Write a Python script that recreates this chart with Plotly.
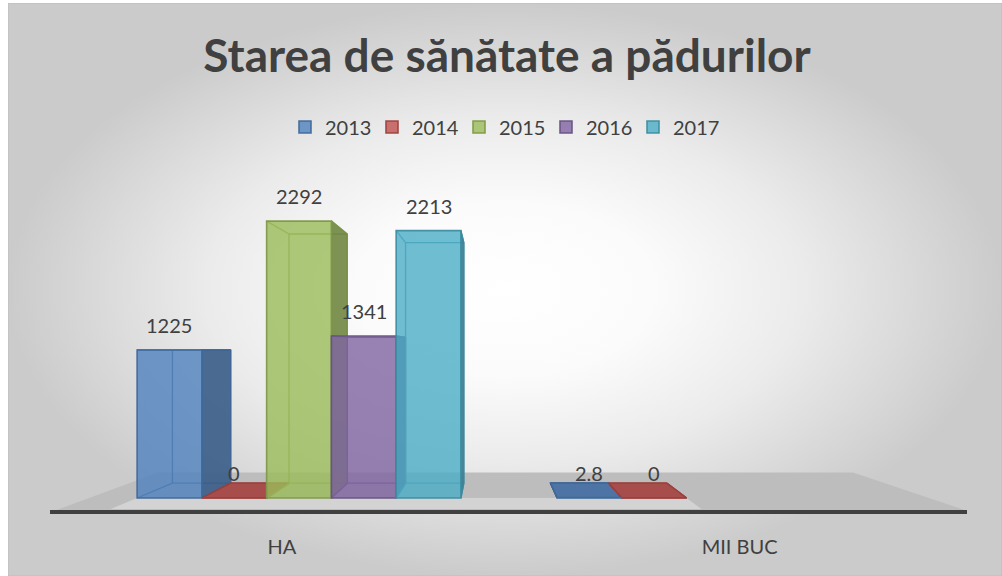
import plotly.graph_objects as go

# ---- data -------------------------------------------------------------
categories = ["HA", "MII BUC"]
years = ["2013", "2014", "2015", "2016", "2017"]
values_2013 = [1225, 2.8]
values_2014 = [0, 0]
values_2015 = [2292, None]
values_2016 = [1341, None]
values_2017 = [2213, None]
series_colors = ["#4F81BD", "#C0504D", "#9BBB59", "#8064A2", "#4BACC6"]

series = [values_2013, values_2014, values_2015, values_2016, values_2017]

# ---- 3-D look: simple one-point perspective ---------------------------
VP_X = 0.455          # vanishing point, category units
VP_V = 1225.0         # vanishing point (eye level), value units
K_BACK = 0.90         # depth scale of the back face of each column
K_FLOOR_BACK = 0.827  # back edge of the floor
K_FLOOR_FRONT = 1.09  # front edge of the floor (axis line)
BARGAP = 0.229

X_RANGE = [-0.5929, 1.5905]
Y_RANGE = [-99.3, 2797.6]

TEXT = "#404040"
FONT = "Lato"


def project(x, v, k):
    return VP_X + k * (x - VP_X), VP_V + k * (v - VP_V)


def hex_rgb(h):
    return tuple(int(h[i:i + 2], 16) for i in (1, 3, 5))


def rgba(rgb, a):
    return f"rgba({rgb[0]},{rgb[1]},{rgb[2]},{a})"


def darker(rgb, f):
    return tuple(int(c * f) for c in rgb)


def polygon(points):
    xs = [p[0] for p in points] + [points[0][0]]
    ys = [p[1] for p in points] + [points[0][1]]
    return xs, ys


fig = go.Figure()

# ---- chart-area background (radial gradient) ---------------------------
fig.add_trace(go.Scatter(
    x=[0, 1, 1, 0, 0], y=[0, 0, 1, 1, 0], xaxis="x", yaxis="y",
    mode="lines", fill="toself", line=dict(color="#bdbdbd", width=1),
    fillgradient=dict(type="radial",
                      colorscale=[[0, "#ffffff"], [0.3, "#fbfbfb"],
                                  [0.6, "#ebebeb"], [1, "#cbcbcb"]]),
    hoverinfo="skip", showlegend=False))

# ---- floor -------------------------------------------------------------
fx, fy = polygon([project(-0.5, 0, K_FLOOR_BACK), project(1.5, 0, K_FLOOR_BACK),
                  project(1.5, 0, K_FLOOR_FRONT), project(-0.5, 0, K_FLOOR_FRONT)])
fig.add_trace(go.Scatter(x=fx, y=fy, xaxis="x2", yaxis="y2", mode="lines",
                         fill="toself", fillcolor="#bdbdbd", line=dict(width=0),
                         hoverinfo="skip", showlegend=False))

n = len(years)
w = (1 - BARGAP) / n


def bar_span(ci, si):
    x0 = ci + (si - n / 2) * w
    return x0, x0 + w


# lighter band along the front of the floor
sx0, _ = bar_span(0, 0)
_, sx1 = bar_span(1, 1)
sx, sy = polygon([project(sx0, 0, 1.0), project(sx1, 0, 1.0),
                  project(sx1, 0, 1.075), project(sx0, 0, 1.075)])
fig.add_trace(go.Scatter(x=sx, y=sy, xaxis="x2", yaxis="y2", mode="lines",
                         fill="toself", fillcolor="#d3d3d3", line=dict(width=0),
                         hoverinfo="skip", showlegend=False))

# ---- hidden faces and side/top faces of every column -------------------
for ci in range(len(categories)):
    for si in range(n):
        v = series[si][ci]
        if v is None:
            continue
        base = hex_rgb(series_colors[si])
        edge = rgba(darker(base, 0.8), 0.9)
        x0, x1 = bar_span(ci, si)
        f = {"bl": (x0, 0), "br": (x1, 0), "tr": (x1, v), "tl": (x0, v)}
        b = {key: project(px, pv, K_BACK) for key, (px, pv) in f.items()}

        # back outline and depth edges, seen through the translucent front
        ex, ey = [], []
        for key_a, key_b in (("bl", "br"), ("br", "tr"), ("tr", "tl"), ("tl", "bl")):
            ex += [b[key_a][0], b[key_b][0], None]
            ey += [b[key_a][1], b[key_b][1], None]
        for key in f:
            ex += [f[key][0], b[key][0], None]
            ey += [f[key][1], b[key][1], None]
        fig.add_trace(go.Scatter(x=ex, y=ey, xaxis="x2", yaxis="y2", mode="lines",
                                 line=dict(color=edge, width=1.3),
                                 hoverinfo="skip", showlegend=False))

        if v > 0 and not (x0 <= VP_X <= x1):
            if x1 < VP_X:
                pts = [f["br"], f["tr"], b["tr"], b["br"]]
            else:
                pts = [f["bl"], f["tl"], b["tl"], b["bl"]]
            px_, py_ = polygon(pts)
            fig.add_trace(go.Scatter(x=px_, y=py_, xaxis="x2", yaxis="y2",
                                     mode="lines", fill="toself",
                                     fillcolor=rgba(darker(base, 0.72), 0.9),
                                     line=dict(color=edge, width=1.3),
                                     hoverinfo="skip", showlegend=False))
        if v < VP_V:
            px_, py_ = polygon([f["tl"], f["tr"], b["tr"], b["tl"]])
            fig.add_trace(go.Scatter(x=px_, y=py_, xaxis="x2", yaxis="y2",
                                     mode="lines", fill="toself",
                                     fillcolor=rgba(darker(base, 0.86), 0.92),
                                     line=dict(color=edge, width=1.3),
                                     hoverinfo="skip", showlegend=False))

# ---- front faces: the columns themselves -------------------------------
for si, year in enumerate(years):
    base = hex_rgb(series_colors[si])
    fig.add_trace(go.Bar(
        x=list(range(len(categories))), y=series[si], name=year,
        xaxis="x3", yaxis="y3",
        marker=dict(color=rgba(base, 0.8),
                    line=dict(color=rgba(darker(base, 0.82), 0.95), width=1.6)),
        hoverinfo="skip"))

# ---- value labels ------------------------------------------------------
annotations = []
for si in range(n):
    for ci in range(len(categories)):
        v = series[si][ci]
        if v is None:
            continue
        x0, x1 = bar_span(ci, si)
        annotations.append(dict(
            x=(x0 + x1) / 2, y=v, xref="x3", yref="y3", text=f"{v:g}",
            showarrow=False, yanchor="middle", yshift=25,
            font=dict(family=FONT, size=20, color=TEXT)))

tick_pos = [project(ci, 0, K_FLOOR_FRONT)[0] for ci in range(len(categories))]

fig.update_layout(
    width=1002, height=576,
    margin=dict(l=0, r=0, t=0, b=0),
    paper_bgcolor="white", plot_bgcolor="rgba(0,0,0,0)",
    barmode="group", bargap=BARGAP, bargroupgap=0,
    title=dict(text="Starea de sănătate a pădurilor", x=0.506, y=1 - 56 / 576,
               xanchor="center", yanchor="middle", xref="paper", yref="paper",
               font=dict(family=FONT, size=46, color=TEXT, weight="bold")),
    legend=dict(orientation="h", x=285 / 1002, xanchor="left",
                y=1 - 127 / 576, yanchor="middle", entrywidth=42,
                entrywidthmode="pixels", bgcolor="rgba(0,0,0,0)",
                font=dict(family=FONT, size=20, color=TEXT)),
    xaxis=dict(domain=[8 / 1002, 1], range=[0, 1], visible=False, anchor="y"),
    yaxis=dict(domain=[0, 573 / 576], range=[0, 1], visible=False, anchor="x"),
    xaxis2=dict(domain=[50 / 1002, 967 / 1002], range=X_RANGE, anchor="y2",
                showgrid=False, zeroline=False, showline=True,
                linecolor="#404040", linewidth=4, ticks="",
                tickvals=tick_pos, ticktext=categories, ticklabelstandoff=16,
                tickfont=dict(family=FONT, size=20, color=TEXT)),
    yaxis2=dict(domain=[66 / 576, 416 / 576], range=Y_RANGE, anchor="x2",
                visible=False),
    xaxis3=dict(overlaying="x2", range=X_RANGE, anchor="y3", visible=False),
    yaxis3=dict(overlaying="y2", range=Y_RANGE, anchor="x3", visible=False),
    annotations=annotations,
)

fig.write_html("out.html")
